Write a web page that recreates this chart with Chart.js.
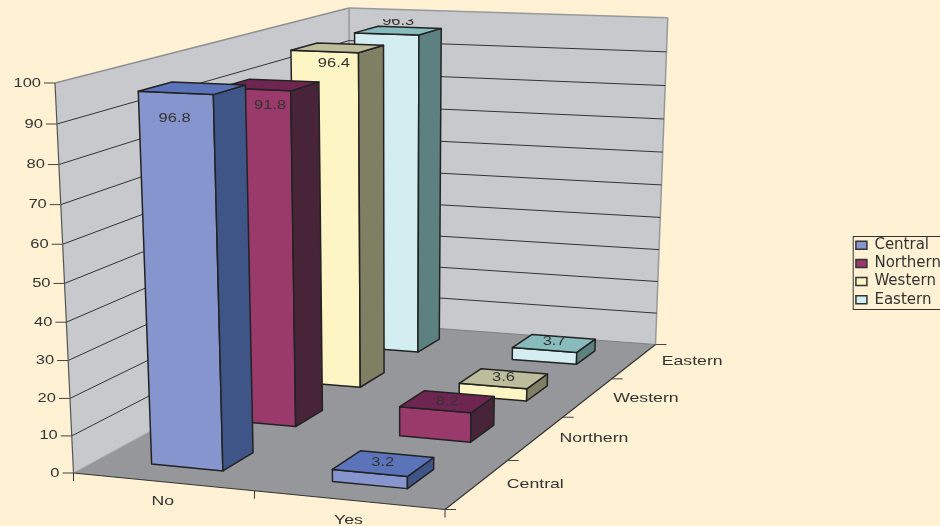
<!DOCTYPE html>
<html>
<head>
<meta charset="utf-8">
<style>html,body{margin:0;padding:0;background:#fff1d3;overflow:hidden}canvas{display:block}</style>
<script src="https://cdn.jsdelivr.net/npm/chart.js@4"></script>
</head>
<body>
<canvas id="c" width="940" height="526"></canvas>
<script>
const categories = ['No', 'Yes'];
const seriesNames = ['Central', 'Northern', 'Western', 'Eastern'];
const central = [96.8, 3.2];
const northern = [91.8, 8.2];
const western = [96.4, 3.6];
const eastern = [96.3, 3.7];
const yMin = 0, yMax = 100, yStep = 10;

// styles
const frontColors = ['#8695ce', '#993a6b', '#fdf5c3', '#d3edf0'];
const sideColors = ['#3f5588', '#472437', '#7f7f63', '#5d8081'];
const topColors = ['#5b73b9', '#6f2551', '#bdbd9c', '#88bbbb'];
const labelDrop = [0.085, 0.065, 0.05, -0.025];
const labelLean = [-0.052, 0, -0.012, 0];

// view of the 3-D box: floor corners and wall tops on the page
const cornerA = [73.5, 473], cornerB = [445, 509.5], cornerC = [655.5, 344.5], cornerD = [351, 322];
const topA = [55, 83], topC = [667.7, 19];
const barFracX = 0.4, barFracZ = 0.4;

function homography(p0, p1, p2, p3) {
  const dx1 = p1[0] - p2[0], dx2 = p3[0] - p2[0], sx = p0[0] - p1[0] + p2[0] - p3[0];
  const dy1 = p1[1] - p2[1], dy2 = p3[1] - p2[1], sy = p0[1] - p1[1] + p2[1] - p3[1];
  const den = dx1 * dy2 - dx2 * dy1;
  const g = (sx * dy2 - dx2 * sy) / den, h = (dx1 * sy - sx * dy1) / den;
  return { a: p1[0] - p0[0] + g * p1[0], b: p3[0] - p0[0] + h * p3[0], c: p0[0],
           d: p1[1] - p0[1] + g * p1[1], e: p3[1] - p0[1] + h * p3[1], f: p0[1], g, h };
}
const H = homography(cornerA, cornerB, cornerC, cornerD);
function vanish() {
  const d1 = [topA[0] - cornerA[0], topA[1] - cornerA[1]], d2 = [topC[0] - cornerC[0], topC[1] - cornerC[1]];
  const den = d1[0] * d2[1] - d1[1] * d2[0];
  const t = ((cornerC[0] - cornerA[0]) * d2[1] - (cornerC[1] - cornerA[1]) * d2[0]) / den;
  return [cornerA[0] + d1[0] * t, cornerA[1] + d1[1] * t];
}
const VP = vanish();
const K = (topA[1] - cornerA[1]) / (VP[1] - topA[1]);
function project(u, v, w) {
  const s = H.g * u + H.h * v + 1 + w * K;
  return [(H.a * u + H.b * v + H.c + w * K * VP[0]) / s, (H.d * u + H.e * v + H.f + w * K * VP[1]) / s];
}
function norm(scale, value) { return (scale.getPixelForValue(value) - scale.left) / scale.width; }
function normY(scale, value) { return (scale.bottom - scale.getPixelForValue(value)) / scale.height; }

function poly(ctx, pts, fill, stroke, lw) {
  ctx.beginPath();
  pts.forEach((p, i) => i ? ctx.lineTo(p[0], p[1]) : ctx.moveTo(p[0], p[1]));
  ctx.closePath();
  if (fill) { ctx.fillStyle = fill; ctx.fill(); }
  if (stroke) { ctx.strokeStyle = stroke; ctx.lineWidth = lw; ctx.lineJoin = 'round'; ctx.stroke(); }
}
function line(ctx, a, b, color, lw) {
  ctx.beginPath(); ctx.moveTo(a[0], a[1]); ctx.lineTo(b[0], b[1]);
  ctx.strokeStyle = color; ctx.lineWidth = lw; ctx.stroke();
}
function label(ctx, text, x, y, align, stretch) {
  ctx.save();
  ctx.translate(x, y); ctx.scale(stretch || 1.27, 1);
  ctx.font = '13px "Liberation Sans"';
  ctx.fillStyle = '#333333';
  ctx.textAlign = align || 'center'; ctx.textBaseline = 'middle';
  ctx.fillText(text, 0, 0);
  ctx.restore();
}

class Bar3D extends Chart.BarController {
  static id = 'bar3d';
  draw() {
    const chart = this.chart, ctx = chart.ctx, si = this.index;
    const xs = chart.scales.x, ys = chart.scales.y, zs = chart.scales.depth;
    const halfU = 0.5 * barFracX / categories.length;
    const halfV = 0.5 * barFracZ / seriesNames.length;
    this.getMeta().data.forEach((el, i) => {
      const val = this.getParsed(i).y;
      const uc = norm(xs, i), vc = norm(zs, si), w = normY(ys, val);
      const u0 = uc - halfU, u1 = uc + halfU, v0 = vc - halfV, v1 = vc + halfV;
      const front = [project(u0, v0, 0), project(u1, v0, 0), project(u1, v0, w), project(u0, v0, w)];
      const side = [project(u1, v0, 0), project(u1, v1, 0), project(u1, v1, w), project(u1, v0, w)];
      const top = [project(u0, v0, w), project(u1, v0, w), project(u1, v1, w), project(u0, v1, w)];
      poly(ctx, front, frontColors[si], '#222222', 1.5);
      poly(ctx, side, sideColors[si], '#222222', 1.5);
      poly(ctx, top, topColors[si], '#222222', 1.5);
      const lw = normY(ys, val * (1 - labelDrop[si]));
      const p = project(uc + labelLean[si] * w, vc, lw);
      label(ctx, String(val), p[0], p[1] - 1.5);
    });
  }
}
Chart.register(Bar3D);

const scene = {
  id: 'scene',
  beforeDraw(chart) {
    const ctx = chart.ctx;
    ctx.save();
    ctx.fillStyle = '#fff1d3';
    ctx.fillRect(0, 0, chart.width, chart.height);
    ctx.restore();
  },
  beforeDatasetsDraw(chart) {
    const ctx = chart.ctx, ys = chart.scales.y, xs = chart.scales.x, zs = chart.scales.depth;
    ctx.save();
    const A = project(0, 0, 0), B = project(1, 0, 0), C = project(1, 1, 0), D = project(0, 1, 0);
    const At = project(0, 0, 1), Ct = project(1, 1, 1), Dt = project(0, 1, 1);
    poly(ctx, [A, D, Dt, At], '#c8c9cc');
    poly(ctx, [D, C, Ct, Dt], '#c8c9cc');
    poly(ctx, [A, B, C, D], '#96979b');
    // wall edges
    line(ctx, At, Dt, '#8f9094', 1.5);
    line(ctx, Dt, Ct, '#98999c', 1.5);
    line(ctx, Dt, D, '#98999c', 1.5);
    line(ctx, Ct, C, '#98999c', 1.5);
    line(ctx, A, D, '#a8a9ac', 1);
    line(ctx, D, C, '#7f8084', 1);
    // gridlines and value axis
    ys.ticks.forEach(t => {
      const w = normY(ys, t.value), a = project(0, 0, w), d = project(0, 1, w), c = project(1, 1, w);
      if (t.value !== yMin && t.value !== yMax) {
        line(ctx, a, d, '#333333', 1);
        line(ctx, d, c, '#333333', 1);
      }
      line(ctx, [a[0] - 11, a[1]], a, '#444444', 1);
      label(ctx, String(t.value), a[0] - 14, a[1], 'right');
    });
    line(ctx, At, A, '#555555', 1.2);
    line(ctx, A, B, '#333333', 1.2);
    line(ctx, B, C, '#333333', 1.2);
    // category axis
    categories.forEach((cat, i) => {
      const p = project(norm(xs, i), 0, 0);
      label(ctx, cat, p[0], p[1] + 20, 'center', 1.36);
    });
    [0, 0.5, 1].forEach(u => { const p = project(u, 0, 0); line(ctx, p, [p[0], p[1] + 8], '#333333', 1); });
    // depth axis
    seriesNames.forEach((s, i) => {
      const p = project(1, norm(zs, i), 0);
      label(ctx, s, p[0] + 58, p[1] + 0.5, 'center', 1.36);
    });
    [0, 0.25, 0.5, 0.75, 1].forEach(v => { const p = project(1, v, 0); line(ctx, p, [p[0] + 11, p[1]], '#444444', 1); });
    ctx.restore();
  },
  afterDraw(chart) {
    const ctx = chart.ctx, lg = chart.legend;
    if (!lg.columnSizes) return;
    const h = lg.columnSizes[0].height, mid = (lg.top + lg.bottom) / 2;
    ctx.save();
    ctx.strokeStyle = '#333333'; ctx.lineWidth = 1;
    ctx.strokeRect(lg.left + 0.5, Math.round(mid - h / 2) + 0.5, chart.width, Math.round(h));
    ctx.restore();
  }
};

const seriesValues = [central, northern, western, eastern];
new Chart(document.getElementById('c'), {
  type: 'bar3d',
  data: {
    labels: categories,
    datasets: seriesNames.map((name, i) => ({
      label: name, data: seriesValues[i], backgroundColor: frontColors[i],
      borderColor: '#333333', borderWidth: 1.5
    }))
  },
  plugins: [scene],
  options: {
    responsive: false, animation: false,
    layout: { padding: { top: 19, right: -11 } },
    scales: {
      x: { type: 'category', display: false, offset: true },
      y: { type: 'linear', display: false, min: yMin, max: yMax, ticks: { stepSize: yStep } },
      depth: { type: 'category', axis: 'x', position: 'bottom', display: false, offset: true, labels: seriesNames }
    },
    plugins: {
      tooltip: { enabled: false },
      legend: {
        position: 'right',
        labels: { boxWidth: 11, boxHeight: 8, padding: 3.2, color: '#333333',
                  font: { family: '"DejaVu Sans"', size: 15 } }
      }
    }
  }
});
</script>
</body>
</html>
